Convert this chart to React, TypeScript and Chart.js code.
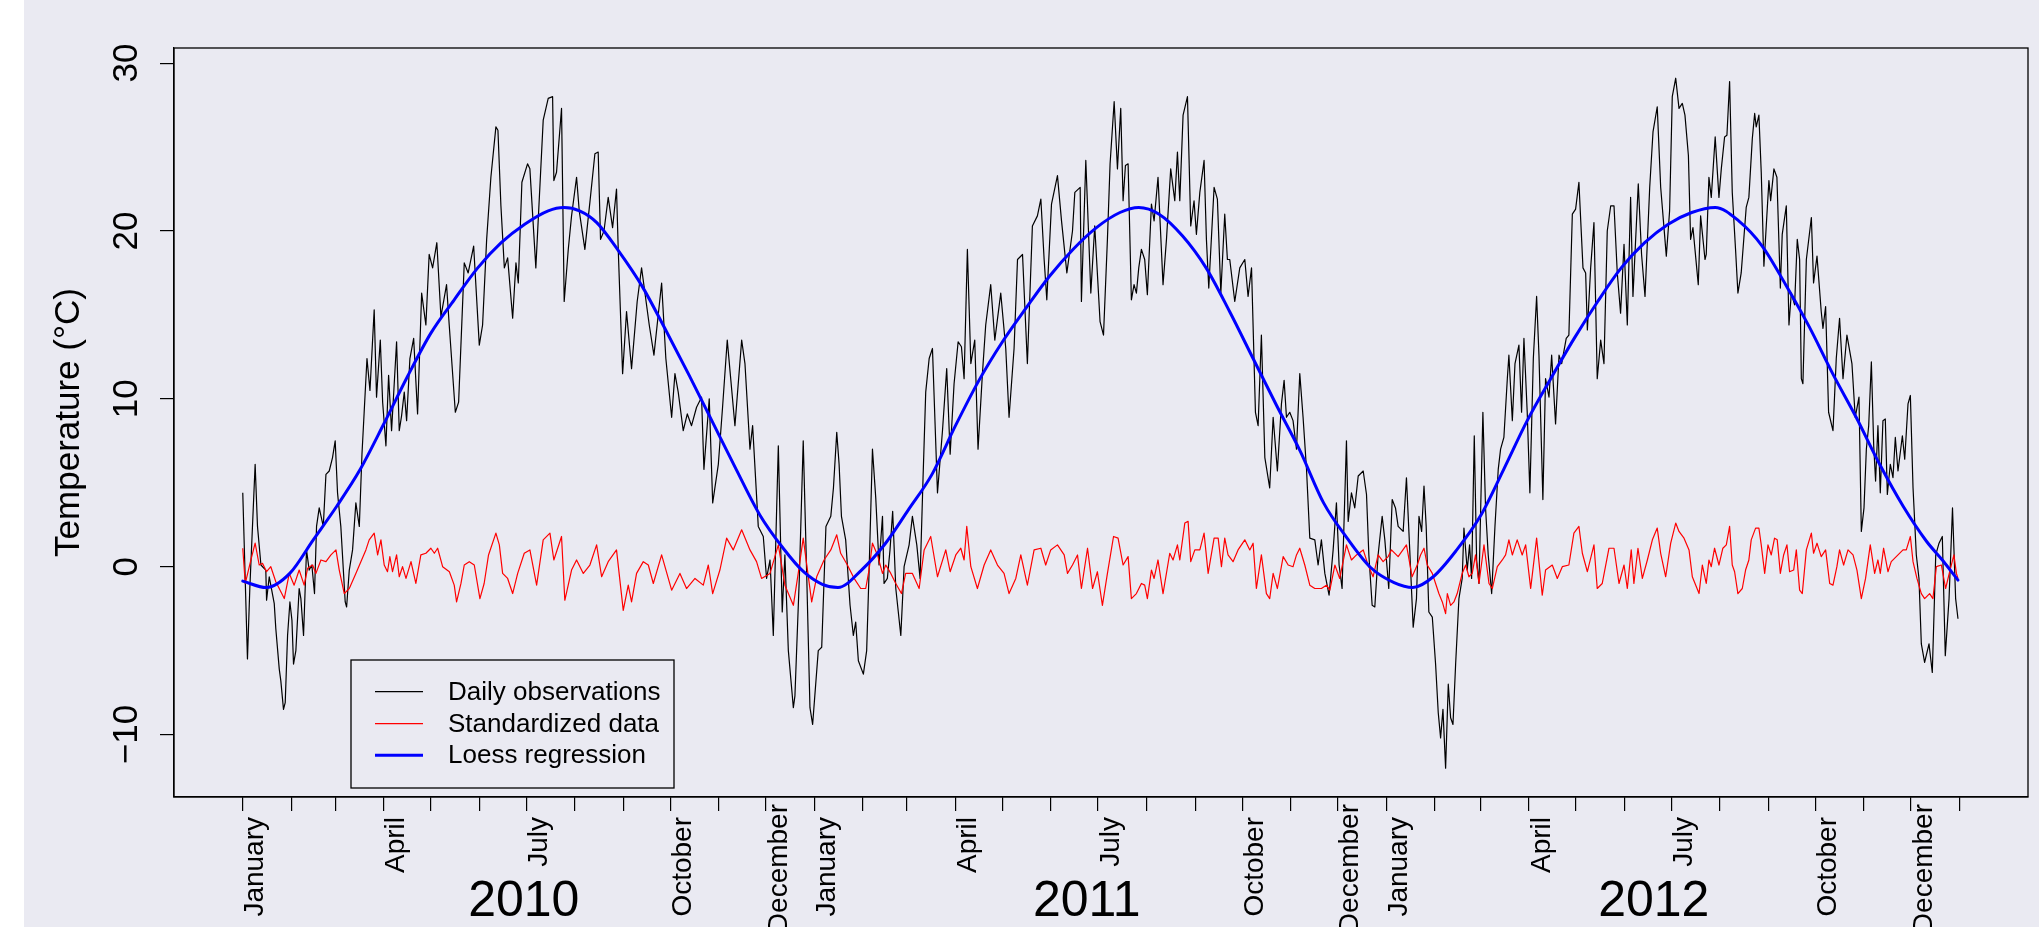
import React, { useEffect, useRef } from 'react';
import { Chart, registerables } from 'chart.js';

Chart.register(...registerables);

const FONT = '"Liberation Sans", Arial, Helvetica, sans-serif';

// Daily observations (day index from 1 Jan 2010, temperature °C)
const obsDays = [
  0, 3.0, 4.5, 7.9, 9.4, 11.6, 14.7, 15.2, 16.9, 20.1, 21.1, 23.3, 24.3, 26.0, 27.1, 28.6, 30.1, 31.4, 32.4, 33.9,
  36.0, 37.1, 38.8, 40.7, 42.4, 44.1, 45.8, 47.1, 48.8, 51.4, 53.1, 55.2, 57.3, 59.0, 60.5, 62.6, 65.4, 66.3, 68.0, 70.1,
  72.2, 74.4, 76.1, 77.5, 79.3, 81.2, 83.9, 85.4, 87.8, 89.3, 91.4, 93.1, 95.0, 98.2, 99.9, 101.4, 103.1, 104.6, 106.7, 109.1,
  111.6, 114.2, 116.9, 119.0, 121.2, 123.9, 126.5, 130.1, 131.8, 135.7, 137.8, 141.4, 143.9, 147.4, 151.0, 153.1, 155.7, 158.4, 161.6, 162.9,
  164.8, 167.0, 169.1, 172.3, 174.4, 175.9, 178.2, 181.8,
  183.3, 187.1, 191.8, 195.0, 197.8, 198.6, 200.3, 203.5, 205.2, 207.8, 209.9, 213.1, 214.8, 218.4, 221.6, 224.8, 226.9, 228.4, 230.6, 233.3,
  236.1, 238.6, 239.7, 242.5, 245.0, 248.2, 251.8, 254.6, 259.5, 262.5, 267.4, 270.1, 273.8, 275.9, 278.0, 281.2, 283.8, 286.5, 289.7, 292.9,
  294.4, 297.8, 300.0, 303.6, 306.3, 309.3, 314.2, 318.5, 320.6, 323.8, 325.5, 329.1, 332.3, 334.4, 336.6, 338.7, 341.9, 344.4, 346.1, 348.3,
  351.5, 352.5, 355.3, 357.8, 360.0, 362.1, 363.8, 367.4, 369.6, 372.3,
  375.4, 377.1, 379.2, 380.7, 382.2, 384.9, 387.7, 389.8, 391.3, 393.0, 396.2, 398.3, 399.8, 402.0, 404.1, 406.2, 408.4, 409.4, 411.5, 413.2,
  414.9, 416.9, 420.1, 422.2, 425.4, 427.5, 430.3, 432.4, 434.3, 436.0, 438.2, 440.3, 443.5, 446.7, 449.4, 451.6, 454.1, 456.7, 458.8, 460.5,
  462.6, 464.8, 467.3, 469.4, 472.2, 474.3, 477.5, 480.1, 483.9, 487.1, 489.2, 492.4, 494.6, 497.8, 500.9, 504.1, 507.3, 509.5, 511.6, 513.3,
  516.3, 520.1, 522.7, 526.1, 529.7, 531.2, 534.6, 535.4, 538.2, 541.4, 543.9, 547.3, 549.5, 552.0, 553.7, 556.3, 558.4,
  560.5, 562.0, 563.5, 565.2, 567.3, 569.0, 570.5, 572.0, 573.7, 575.8, 577.5, 580.1, 581.8, 584.3, 587.5, 589.7, 592.4, 595.0, 596.7, 598.2,
  600.3, 603.1, 605.2, 607.3, 608.8, 611.0, 613.7, 615.2, 616.7, 620.1, 622.2, 624.4, 626.9, 628.6, 630.1, 633.3, 636.5, 639.7, 641.8, 644.0,
  646.5, 648.2, 650.3, 652.5, 655.6, 657.8, 660.5, 663.1, 664.8, 666.3, 668.4, 670.5, 672.7, 674.8, 676.9, 679.1, 681.2, 684.4, 686.5, 688.6,
  690.8, 693.5, 696.1, 698.2, 699.9, 701.8, 704.6, 705.7, 707.8, 709.9, 712.1, 715.3, 717.4, 718.9, 721.0, 722.7, 724.8, 727.4, 729.1, 731.6,
  733.8, 735.9, 737.6, 740.8, 742.9, 745.0, 747.2, 749.3,
  750.9, 752.6, 754.1, 755.5, 757.2, 759.4, 761.5, 763.2, 764.7, 766.2, 767.9, 769.6, 771.1, 772.6, 774.3, 776.4, 778.5, 779.6, 781.7, 783.2,
  784.5, 786.2, 787.7, 789.2, 791.7, 793.4, 795.1, 797.3, 799.4, 801.5, 803.0, 805.1, 807.3, 808.3, 810.5, 812.2, 814.7, 816.4, 817.9, 820.0,
  821.7, 823.9, 826.0, 827.5, 830.0, 831.7, 833.9, 835.6, 838.1, 840.3, 842.0, 844.9, 846.6, 848.8, 850.9, 853.0, 855.6, 857.3, 858.4, 860.5,
  862.6, 864.7, 866.9, 869.0, 871.1, 873.3, 875.4, 877.5, 879.6, 881.8, 883.9, 886.0, 887.5, 890.9, 893.0, 895.2, 898.2, 900.3, 903.0, 905.2,
  908.8, 910.9, 912.6, 914.8, 916.9, 919.0, 920.7, 922.9, 924.3, 925.8, 929.2, 930.7, 933.5,
  934.3, 936.0, 937.5, 940.0, 942.4, 943.9, 946.0, 947.5, 949.2, 950.9, 953.0, 954.5, 956.6, 959.8, 961.5, 963.7, 965.2, 966.2, 967.9, 969.4,
  971.1, 972.6, 974.3, 975.4, 977.5, 979.4, 981.6, 982.8, 985.4, 987.1, 988.6, 990.7, 992.4, 993.9, 995.0, 996.0, 998.2, 1001.4, 1002.8, 1005.0,
  1007.7, 1008.8, 1010.5, 1012.4, 1015.2, 1017.3, 1019.4, 1021.6, 1024.1, 1027.3, 1029.4, 1031.8, 1033.3, 1035.0, 1036.5, 1038.0, 1039.7, 1041.2, 1042.4, 1043.9,
  1045.4, 1047.1, 1048.6, 1049.9, 1051.8, 1053.5, 1055.0, 1056.7, 1059.5, 1061.0, 1063.1, 1064.6, 1066.3, 1068.4, 1070.1, 1071.6, 1073.7, 1076.5, 1078.6, 1080.8,
  1082.9, 1085.0, 1086.9, 1089.3, 1091.5, 1093.5, 1095.0,
];
const obsTemps = [
  4.4, -5.5, -1.3, 6.1, 2.4, 0.1, -0.2, -2.0, -0.6, -2.2, -3.7, -6.1, -6.8, -8.5, -8.1, -4.1, -2.1, -3.2, -5.8, -5.0,
  -1.3, -1.9, -4.1, 1.0, -0.2, 0.1, -1.6, 2.4, 3.5, 2.4, 5.5, 5.7, 6.5, 7.5, 4.4, 2.4, -2.1, -2.4, -0.2, 1.0,
  3.8, 2.4, 6.7, 9.2, 12.4, 10.5, 15.3, 10.1, 13.5, 9.8, 7.2, 11.4, 8.1, 13.4, 8.1, 9.0, 10.4, 8.7, 12.4, 13.6,
  9.1, 16.3, 14.4, 18.6, 17.8, 19.3, 14.9, 16.8, 14.4, 9.2, 9.8, 18.1, 17.5, 19.1, 13.2, 14.4, 19.5, 23.2, 26.2, 26.0,
  21.5, 17.8, 18.4, 14.8, 18.1, 16.9, 22.9, 24.0,
  23.7, 17.8, 26.6, 27.9, 28.0, 23.0, 23.5, 27.3, 15.8, 18.9, 20.9, 23.2, 21.2, 18.9, 21.7, 24.6, 24.7, 19.5, 20.0, 22.0,
  20.2, 22.5, 18.9, 11.5, 15.2, 11.8, 15.8, 17.8, 14.4, 12.6, 16.9, 12.4, 8.9, 11.5, 10.4, 8.1, 9.1, 8.4, 9.5, 10.1,
  5.8, 10.0, 3.8, 6.1, 9.5, 13.5, 8.4, 13.5, 12.1, 7.0, 8.4, 2.4, 1.8, -0.7, 0.4, -4.1, 7.2, -2.7, 0.7, -5.0,
  -8.4, -7.7, -0.7, 7.5, -0.4, -8.4, -9.4, -5.0, -4.8, 2.4,
  3.0, 4.7, 8.0, 6.1, 3.0, 1.6, -2.3, -4.1, -3.3, -5.6, -6.4, -5.0, -0.4, 7.0, 4.1, 0.1, 3.0, -1.0, -0.7, 1.0,
  3.3, -1.3, -4.1, 0.0, 1.3, 3.0, 1.3, -0.7, 5.3, 10.4, 12.4, 13.0, 4.4, 8.1, 11.8, 6.7, 10.9, 13.4, 13.1, 11.2,
  18.9, 12.1, 13.5, 7.0, 11.5, 14.4, 16.8, 13.5, 16.3, 13.0, 8.9, 13.0, 18.3, 18.6, 12.1, 20.3, 20.9, 21.9, 18.3, 15.9,
  21.6, 23.3, 20.6, 17.5, 20.0, 22.3, 22.6, 15.8, 24.2, 16.3, 20.3, 14.6, 13.8, 19.5, 24.0, 27.7, 23.7,
  27.3, 21.8, 23.9, 24.0, 15.9, 16.8, 16.3, 17.8, 18.9, 18.3, 16.2, 21.6, 20.6, 23.2, 16.8, 19.5, 23.7, 21.8, 24.7, 21.8,
  26.9, 28.0, 20.3, 21.8, 19.8, 22.3, 24.2, 19.5, 16.6, 22.6, 21.9, 16.3, 21.0, 18.3, 18.3, 15.8, 17.8, 18.3, 16.1, 17.8,
  9.2, 8.4, 13.8, 6.5, 4.7, 8.9, 5.7, 9.7, 11.1, 8.9, 9.2, 8.7, 7.0, 11.5, 8.9, 5.8, 1.7, 1.6, 0.1, 1.6,
  -0.4, -1.7, 1.0, 3.8, 0.1, -1.3, 7.5, 2.7, 4.4, 3.5, 5.4, 5.7, 4.3, 0.7, -2.3, -2.4, 0.7, 3.0, 1.6, -1.3,
  4.0, 3.5, 2.4, 2.1, 5.3, 1.0, -3.6, -1.9,
  3.0, 2.1, 4.8, 2.4, -2.7, -3.0, -5.8, -8.7, -10.2, -8.5, -12.0, -7.0, -9.0, -9.4, -5.8, -1.9, -0.7, 2.3, -0.2, 1.3,
  -0.7, 7.8, 0.4, -1.0, 9.2, 3.5, 0.7, -1.6, 2.4, 5.8, 7.0, 7.7, 11.2, 12.6, 8.7, 12.1, 13.2, 9.2, 13.6, 9.2,
  4.4, 12.4, 16.1, 12.6, 4.0, 11.2, 10.1, 12.6, 8.5, 12.6, 12.1, 13.6, 13.8, 21.0, 21.3, 22.9, 17.8, 17.5, 14.1, 17.8,
  20.5, 11.2, 13.5, 12.1, 20.0, 21.5, 21.5, 17.5, 15.1, 19.2, 14.4, 22.0, 16.1, 22.8, 18.6, 16.1, 22.6, 25.9, 27.4, 22.6,
  18.5, 21.2, 28.0, 29.1, 27.3, 27.6, 26.9, 24.5, 19.5, 20.2, 16.8, 20.9, 18.3,
  18.6, 23.2, 22.0, 25.6, 22.0, 23.7, 25.6, 25.7, 28.9, 22.3, 18.9, 16.3, 17.5, 21.4, 22.0, 25.5, 27.0, 26.2, 26.9, 23.5,
  17.9, 20.3, 23.0, 21.8, 23.7, 23.2, 16.6, 19.8, 21.5, 14.4, 16.3, 15.6, 19.5, 18.3, 11.2, 10.9, 18.3, 20.8, 16.9, 18.5,
  15.2, 14.2, 15.5, 9.2, 8.1, 12.4, 14.8, 11.2, 13.8, 12.1, 8.9, 10.1, 2.1, 3.5, 7.0, 8.4, 12.2, 7.2, 5.1, 8.4,
  4.4, 8.7, 8.8, 4.3, 6.1, 5.3, 7.7, 5.7, 7.8, 6.4, 9.7, 10.2, 4.7, 0.7, -0.7, -4.6, -5.7, -4.6, -6.3, 0.7,
  1.4, 1.8, -5.3, -1.9, 3.5, -1.9, -3.1,
];

// Standardized data
const stdDays = [
  0, 1.6, 5.2, 7.9, 10.5, 12.6, 15.2, 17.9, 21.1, 26.5, 29.7, 32.8, 36.0, 39.2, 41.4, 44.6, 46.7, 49.9, 53.1, 56.3,
  59.5, 61.6, 64.8, 68.0, 72.2, 78.6, 80.7, 83.9, 86.1, 88.2, 90.3, 92.4, 93.9, 95.6, 98.2, 99.9, 102.0, 104.2, 107.4, 110.5,
  113.7, 116.9, 120.1, 122.3, 124.4, 127.6, 131.9, 135.0, 136.5, 139.3, 141.4, 144.6, 147.8, 151.4, 154.1, 156.9, 161.6, 163.8, 165.9, 169.1,
  172.3, 175.5, 179.7,
  183.3, 187.6, 191.8, 196.1, 198.6, 203.5, 205.6, 209.9, 213.1, 217.4, 221.6, 225.9, 229.1, 233.3, 238.6, 242.9, 246.1, 248.2, 251.4, 255.7,
  258.9, 262.1, 267.4, 273.8, 279.1, 283.3, 288.7, 294.0, 297.2, 300.0, 304.6, 308.9, 313.1, 318.5, 323.8, 328.0, 331.2, 336.6, 341.9, 346.1,
  351.5, 354.6, 357.8, 363.2, 366.4,
  371.1, 375.4, 379.2, 381.7, 386.0, 390.3, 394.5, 397.7, 399.8, 402.0, 405.2, 408.4, 410.5, 413.7, 416.9, 420.5, 423.2, 427.5, 431.8, 435.0,
  439.2, 443.5, 448.8, 451.6, 455.2, 458.4, 460.5, 462.2, 464.8, 469.0, 473.3, 477.5, 481.8, 486.0, 489.2, 493.5, 496.7, 500.9, 505.2, 509.5,
  512.6, 515.8, 520.1, 524.4, 526.5, 529.7, 532.9, 535.4, 539.3, 542.5, 545.6, 548.8, 552.0, 555.9,
  558.8, 562.0, 565.2, 567.3, 570.5, 573.7, 575.8, 577.5, 580.1, 581.8, 584.3, 587.5, 591.8, 593.9, 596.7, 598.2, 601.4, 603.5, 605.2, 607.8,
  611.0, 613.7, 616.3, 620.1, 622.7, 624.8, 626.9, 629.0, 632.2, 635.4, 639.7, 642.9, 645.0, 647.1, 650.3, 653.5, 655.6, 657.8, 660.5, 664.2,
  667.4, 670.5, 672.7, 674.8, 678.0, 681.2, 684.4, 688.6, 691.8, 694.0, 697.2, 700.3, 704.6, 707.8, 711.0, 715.3, 718.4, 721.6, 724.8, 728.0,
  731.2, 733.3, 737.6, 742.9, 746.5,
  749.8, 751.9, 754.1, 756.2, 759.4, 761.5, 763.6, 765.8, 767.9, 769.0, 771.1, 773.2, 775.3, 778.5, 780.7, 782.8, 784.9, 787.0, 789.2, 792.4,
  795.6, 797.7, 800.9, 804.1, 806.2, 808.3, 810.5, 813.6, 816.8, 819.0, 822.2, 826.0, 829.6, 831.7, 836.0, 839.2, 842.4, 846.6, 849.8, 853.0,
  855.2, 858.4, 862.6, 864.7, 867.9, 872.2, 875.4, 878.6, 881.8, 883.9, 886.4, 888.1, 890.7, 893.5, 896.7, 899.9, 903.0, 905.2, 908.4, 911.6,
  914.8, 916.9, 920.1, 923.3, 925.4, 929.7, 931.8,
  934.3, 936.0, 937.5, 939.6, 942.4, 944.9, 947.1, 949.2, 950.9, 952.4, 954.5, 957.3, 959.4, 961.5, 963.0, 965.8, 967.9, 969.4, 971.6, 973.7,
  975.8, 977.9, 979.6, 981.6, 983.7, 985.8, 987.5, 990.1, 991.8, 993.9, 995.6, 998.2, 1001.4, 1002.8, 1005.0, 1007.7, 1010.5, 1013.1, 1015.2, 1017.7,
  1019.4, 1022.0, 1024.8, 1028.0, 1030.5, 1033.3, 1036.0, 1039.0, 1041.8, 1043.9, 1045.4, 1047.5, 1050.3, 1052.4, 1055.6, 1059.9, 1062.0, 1064.6, 1066.3, 1068.8,
  1071.6, 1073.7, 1076.9, 1079.0, 1081.2, 1084.4, 1087.1, 1089.7, 1092.4, 1094.0, 1095.0,
];
const stdValues = [
  1.1, -1.0, 0.4, 1.4, 0.1, 0.2, -0.3, 0.0, -0.9, -1.9, -0.4, -1.1, -0.2, -1.1, -0.1, 0.1, -0.4, 0.4, 0.3, 0.7,
  1.0, -0.2, -1.6, -1.3, -0.4, 1.0, 1.6, 2.0, 0.7, 1.6, 0.1, -0.3, 0.6, -0.3, 0.7, -0.6, 0.0, -0.7, 0.3, -1.0,
  0.7, 0.8, 1.1, 0.8, 1.1, 0.0, -0.3, -1.1, -2.1, -1.0, 0.1, 0.3, 0.1, -1.9, -1.0, 0.7, 2.0, 1.3, -0.4, -0.7,
  -1.6, -0.4, 0.8,
  1.0, -1.1, 1.6, 2.0, 0.4, 1.8, -2.0, -0.2, 0.4, -0.4, 0.1, 1.3, -0.6, 0.3, 1.0, -2.6, -1.1, -2.1, -0.4, 0.3,
  0.1, -1.0, 0.7, -1.4, -0.4, -1.3, -0.7, -1.1, 0.1, -1.6, -0.2, 1.7, 1.0, 2.2, 1.0, 0.3, -0.7, -0.4, 1.3, -1.1,
  -2.3, -0.4, 1.7, -2.1, -0.6,
  0.4, 1.0, 1.9, 0.8, 0.1, -0.7, -1.3, -1.3, -0.2, 1.4, 0.7, -0.4, 0.1, -0.4, -1.0, -1.6, -0.4, -0.4, -1.3, 1.0,
  1.8, -0.6, 1.0, -0.3, 0.7, 1.1, 0.4, 2.4, 0.0, -1.3, 0.1, 1.0, 0.1, -0.4, -1.6, -0.7, 0.7, -1.1, 1.0, 1.1,
  0.1, 1.0, 1.3, 0.7, -0.4, 0.1, 0.7, -1.3, 1.1, -1.3, -0.3, -2.3, -0.4, 1.8,
  1.7, 0.1, 0.6, -1.9, -1.6, -1.0, -1.1, -1.9, -0.2, -0.7, 0.4, -1.6, 0.8, 0.4, 1.3, 0.4, 2.6, 2.7, 0.3, 1.0,
  1.0, 2.0, -0.4, 1.7, 1.7, 0.0, 1.7, 0.7, 0.3, 1.0, 1.6, 1.0, 1.4, -1.3, 0.7, -1.6, -1.9, -0.4, -1.3, 0.6,
  0.1, 0.0, 0.7, 1.1, 0.1, -1.1, -1.3, -1.3, -1.1, -1.4, 0.1, -0.7, 1.3, 0.4, 0.7, 1.0, 0.1, -0.6, 0.7, 0.3,
  0.6, 1.0, 0.6, 1.3, -0.6,
  0.1, 0.7, 1.1, 0.1, -0.4, -1.0, -1.6, -2.1, -2.8, -1.6, -2.3, -2.1, -1.6, -0.4, 0.1, -0.6, -0.4, 0.7, -1.0, 1.3,
  -1.0, -1.3, 0.0, 0.4, 0.7, 1.6, 0.7, 1.6, 0.7, 1.3, -1.3, 1.7, -1.7, -0.2, 0.1, -0.7, 0.0, 0.1, 2.0, 2.4,
  0.8, -0.3, 1.3, -1.3, -1.0, 1.1, 1.1, -1.0, 0.1, -1.3, 1.0, -1.0, 1.1, -0.7, 0.4, 1.6, 2.3, 0.8, -0.6, 1.4,
  2.6, 2.1, 1.7, 1.0, -0.6, -1.6, 0.1,
  -1.0, 0.4, 0.0, 1.1, 0.1, 1.1, 1.3, 2.4, 0.1, -0.3, -1.6, -1.3, -0.2, 0.4, 1.6, 2.3, 2.3, 1.3, -0.4, 1.3,
  0.7, 1.7, 1.6, -0.4, 0.7, 1.3, -0.3, -0.2, 1.0, -1.4, -1.6, 1.0, 2.0, 0.8, 1.4, 0.6, 1.0, -1.0, -1.1, 0.0,
  1.0, 0.1, 1.0, 0.7, -0.2, -1.9, -0.7, 1.3, -0.4, 0.4, -0.4, 1.1, -0.3, 0.3, 0.6, 1.0, 1.0, 1.8, 0.3, -0.7,
  -1.6, -1.9, -1.6, -1.9, 0.0, 0.1, -1.3, -0.3, 0.7, -0.4, -0.7,
];

// Loess regression
const loessDays = [
  0, 15, 30, 45, 60, 75, 90, 105, 120, 135, 150, 165, 180, 195, 205, 215, 226, 240, 255, 270,
  285, 300, 315, 330, 345, 358, 370,
  380, 395, 410, 425, 440, 455, 470, 485, 500, 515, 530, 545, 560, 572, 585, 600, 615, 630, 645, 660,
  675, 690, 705, 720, 735,
  747, 760, 775, 790, 805, 820, 835, 850, 865, 880, 895, 910, 925, 940, 955, 970, 985, 1000, 1015, 1030,
  1045, 1060, 1075, 1085, 1095,
];
const loessValues = [
  -0.86, -1.24, -0.4, 1.6, 3.6, 5.8, 8.5, 11.3, 13.9, 15.9, 17.8, 19.3, 20.4, 21.2, 21.4, 21.2, 20.5, 18.8, 16.7, 14.1,
  11.4, 8.6, 5.8, 3.1, 1.1, -0.3, -1.05,
  -1.24, -0.2, 1.35, 3.4, 5.5, 8.4, 11.1, 13.4, 15.4, 17.3, 18.9, 20.2, 21.1, 21.4, 21.0, 19.7, 17.8, 15.2, 12.4, 9.6,
  6.9, 3.8, 1.7, -0.05, -0.95,
  -1.24, -0.6, 1.0, 3.0, 5.8, 8.7, 11.2, 13.6, 15.8, 17.8, 19.3, 20.4, 21.1, 21.4, 20.6, 19.1, 16.8, 14.3, 11.5, 8.9,
  6.1, 3.6, 1.5, 0.4, -0.8,
];

// Axis ticks
const monthTickDays = [
  0, 31, 59, 90, 120, 151, 181, 212, 243, 273, 304, 334,
  365, 396, 424, 455, 485, 516, 546, 577, 608, 638, 669, 699,
  730, 761, 790, 821, 851, 882, 912, 943, 974, 1004, 1035, 1065,
  1096,
];
const yearMonthLabels = ['January', '', '', 'April', '', '', 'July', '', '', 'October', '', ''];
const monthTickLabels = [...yearMonthLabels, ...yearMonthLabels, ...yearMonthLabels, ''];
const decemberTickDays = [334, 699, 1065];
const decemberTickLabels = ['December', 'December', 'December'];
const yTickValues = [-10, 0, 10, 20, 30];
const yTickLabels = ['\u221210', '0', '10', '20', '30'];
const yearLabels = ['2010', '2011', '2012'];
const yearLabelDays = [179.4, 538.8, 900.8];

const seriesNames = ['Daily observations', 'Standardized data', 'Loess regression'];
const seriesColors = ['#000000', '#FF0000', '#0000FF'];
const seriesWidths = [1.2, 1.2, 3];

const toPoints = (xs: number[], ys: number[]) => xs.map((x, i) => ({ x, y: ys[i] }));

const bgPlugin = {
  id: 'bgPlugin',
  beforeDraw(chart: any) {
    const { ctx, width, height } = chart;
    ctx.save();
    ctx.fillStyle = '#EAEAF2';
    ctx.fillRect(0, 0, width, height);
    ctx.fillStyle = '#FFFFFF';
    ctx.fillRect(0, 0, 24, height);
    ctx.restore();
  },
};

// The December labels sit a little higher than the other month labels:
// give their axis the same band below the plot as the main month axis.
const decAxisPlugin = {
  id: 'decAxisPlugin',
  afterLayout(chart: any) {
    const s = chart.scales.x2;
    if (s) {
      s.top = chart.chartArea.bottom;
      s.bottom = chart.height;
      s.height = s.bottom - s.top;
    }
  },
};

const decorPlugin = {
  id: 'decorPlugin',
  afterDraw(chart: any) {
    const { ctx, chartArea: a, scales } = chart;
    ctx.save();
    // plot box
    ctx.strokeStyle = '#000000';
    ctx.lineWidth = 1.3;
    ctx.strokeRect(a.left, a.top, a.right - a.left, a.bottom - a.top);

    // year labels
    ctx.fillStyle = '#000000';
    ctx.font = `50px ${FONT}`;
    ctx.textAlign = 'center';
    ctx.textBaseline = 'alphabetic';
    yearLabels.forEach((t, i) => {
      ctx.fillText(t, scales.x.getPixelForValue(yearLabelDays[i]), 916);
    });

    // legend
    const bx = 351, by = 660, bw = 323, bh = 128;
    ctx.fillStyle = '#EAEAF2';
    ctx.fillRect(bx, by, bw, bh);
    ctx.strokeStyle = '#000000';
    ctx.lineWidth = 1.3;
    ctx.strokeRect(bx, by, bw, bh);
    const rows = [691.7, 723.7, 755.3];
    ctx.font = `26px ${FONT}`;
    ctx.textAlign = 'left';
    ctx.textBaseline = 'middle';
    seriesNames.forEach((name, i) => {
      ctx.strokeStyle = seriesColors[i];
      ctx.lineWidth = seriesWidths[i];
      ctx.beginPath();
      ctx.moveTo(375, rows[i]);
      ctx.lineTo(423, rows[i]);
      ctx.stroke();
      ctx.fillStyle = '#000000';
      ctx.fillText(name, 448, rows[i] + 1);
    });
    ctx.restore();
  },
};

export default function App() {
  const canvasRef = useRef<HTMLCanvasElement | null>(null);

  useEffect(() => {
    if (!canvasRef.current) return;
    const chart = new Chart(canvasRef.current, {
      type: 'line',
      data: {
        datasets: [
          {
            label: seriesNames[2],
            data: toPoints(loessDays, loessValues),
            borderColor: seriesColors[2],
            borderWidth: seriesWidths[2],
            pointRadius: 0,
            cubicInterpolationMode: 'monotone',
            fill: false,
            borderJoinStyle: 'round',
            borderCapStyle: 'round',
          },
          {
            label: seriesNames[1],
            data: toPoints(stdDays, stdValues),
            borderColor: seriesColors[1],
            borderWidth: seriesWidths[1],
            pointRadius: 0,
            tension: 0,
            fill: false,
            borderJoinStyle: 'round',
          },
          {
            label: seriesNames[0],
            data: toPoints(obsDays, obsTemps),
            borderColor: seriesColors[0],
            borderWidth: seriesWidths[0],
            pointRadius: 0,
            tension: 0,
            fill: false,
            borderJoinStyle: 'round',
          },
        ],
      },
      options: {
        animation: false,
        responsive: false,
        devicePixelRatio: 1,
        events: [],
        layout: { padding: { top: 48, right: 11, left: 0, bottom: 0 } },
        plugins: {
          legend: { display: false },
          tooltip: { enabled: false },
          title: { display: false },
        },
        scales: {
          x: {
            type: 'linear',
            position: 'bottom',
            weight: 0,
            min: -43.9,
            max: 1139.7,
            afterBuildTicks: (scale: any) => {
              scale.ticks = monthTickDays.map((v) => ({ value: v }));
            },
            afterFit: (scale: any) => {
              scale.height = 130;
            },
            grid: {
              drawOnChartArea: false,
              drawTicks: true,
              tickLength: 14,
              color: '#000000',
              lineWidth: 1.2,
            },
            border: { display: true, color: '#000000', width: 1.2 },
            ticks: {
              autoSkip: false,
              minRotation: 90,
              maxRotation: 90,
              padding: 6,
              labelOffset: 13,
              color: '#000000',
              font: { family: FONT, size: 28 },
              callback: (_v: any, i: number) => monthTickLabels[i] ?? '',
            },
          },
          x2: {
            type: 'linear',
            position: 'bottom',
            weight: 1,
            min: -43.9,
            max: 1139.7,
            afterBuildTicks: (scale: any) => {
              scale.ticks = decemberTickDays.map((v) => ({ value: v }));
            },
            afterFit: (scale: any) => {
              scale.height = 0;
            },
            grid: { display: false, drawTicks: false, drawOnChartArea: false },
            border: { display: false },
            ticks: {
              autoSkip: false,
              minRotation: 90,
              maxRotation: 90,
              padding: 7,
              labelOffset: 13,
              color: '#000000',
              font: { family: FONT, size: 28 },
              callback: (_v: any, i: number) => decemberTickLabels[i] ?? '',
            },
          },
          y: {
            type: 'linear',
            min: -13.72,
            max: 30.9,
            afterBuildTicks: (scale: any) => {
              scale.ticks = yTickValues.map((v) => ({ value: v }));
            },
            afterFit: (scale: any) => {
              scale.width = 174;
            },
            grid: {
              drawOnChartArea: false,
              drawTicks: true,
              tickLength: 14,
              color: '#000000',
              lineWidth: 1.2,
            },
            border: { display: true, color: '#000000', width: 1.2 },
            ticks: {
              minRotation: 90,
              maxRotation: 90,
              crossAlign: 'center',
              padding: 3,
              color: '#000000',
              font: { family: FONT, size: 35 },
              callback: (_v: any, i: number) => yTickLabels[i] ?? '',
            },
            title: {
              display: true,
              text: 'Temperature (°C)',
              color: '#000000',
              font: { family: FONT, size: 35 },
              padding: { top: 48, bottom: 0 },
            },
          },
        },
      },
      plugins: [bgPlugin, decAxisPlugin, decorPlugin],
    } as any);
    return () => chart.destroy();
  }, []);

  return (
    <div style={{ position: 'absolute', left: 0, top: 0, width: 2039, height: 927 }}>
      <canvas ref={canvasRef} width={2039} height={927} style={{ width: 2039, height: 927, display: 'block' }} />
    </div>
  );
}
